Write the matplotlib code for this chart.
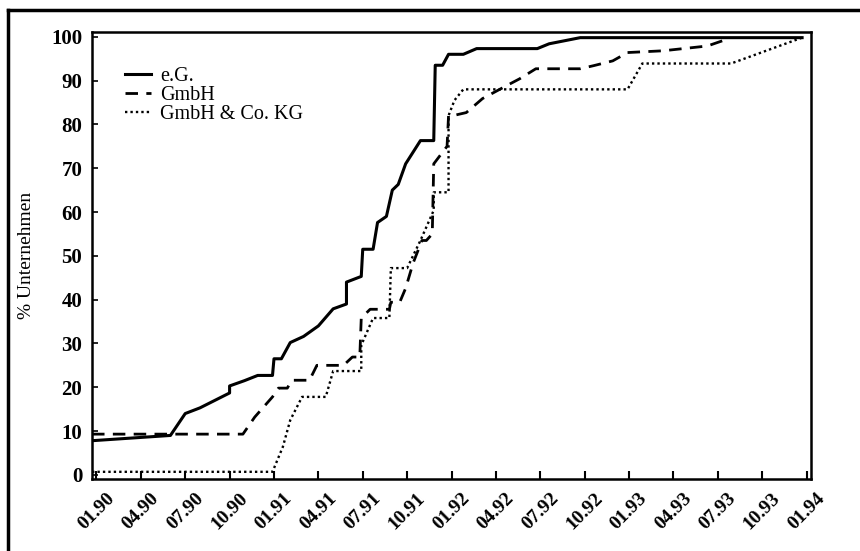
import matplotlib
matplotlib.use("Agg")
import matplotlib.pyplot as plt
from matplotlib.lines import Line2D

# --- Daten (Monate ab 01.90, Anteil in %) ---
eg_month = [-0.3, 5.0, 6.0, 7.0, 8.0, 9.0, 9.0, 10.0, 10.9, 11.9, 12.0, 12.5, 13.1,
            14.0, 15.0, 16.0, 16.9, 16.9, 17.9, 18.0, 18.7, 19.0, 19.6, 20.0, 20.4,
            20.9, 21.9, 22.8, 22.9, 23.4, 23.8, 24.8, 25.7, 29.8, 30.6, 32.7, 47.7]
eg_pct = [7.8, 9.0, 14.0, 15.3, 17.0, 18.7, 20.3, 21.5, 22.7, 22.7, 26.5, 26.5, 30.2,
          31.6, 34.0, 37.9, 39.0, 44.0, 45.3, 51.5, 51.5, 57.6, 59.0, 65.0, 66.3,
          71.0, 76.3, 76.3, 93.5, 93.5, 96.0, 96.0, 97.3, 97.3, 98.4, 99.8, 99.8]

gmbh_month = [-0.3, 9.9, 10.7, 11.9, 12.3, 12.9, 13.2, 14.4, 14.9, 16.7, 17.3, 17.8,
              17.9, 18.5, 19.8, 19.9, 20.5, 20.9, 21.4, 22.0, 22.3, 22.7, 22.8, 23.7,
              23.8, 24.1, 25.0, 26.1, 27.7, 28.6, 29.7, 32.7, 33.6, 34.9, 35.9, 38.3,
              41.3, 42.5]
gmbh_pct = [9.3, 9.3, 13.2, 17.8, 19.8, 19.8, 21.6, 21.6, 25.0, 25.0, 26.9, 26.9,
            35.8, 37.8, 37.8, 39.4, 39.4, 42.6, 48.3, 53.5, 53.5, 55.0, 71.0, 75.0,
            82.0, 82.0, 82.7, 85.9, 88.8, 90.4, 92.7, 92.7, 93.4, 94.5, 96.4, 96.8,
            97.9, 99.3]

kg_month = [-0.3, 11.9, 12.6, 13.1, 13.9, 15.5, 16.0, 17.9, 17.9, 18.7, 19.8, 19.9,
            21.0, 21.9, 22.8, 22.8, 23.8, 23.8, 24.2, 24.8, 35.9, 36.9, 42.9, 47.7]
kg_pct = [0.7, 0.7, 6.4, 12.5, 17.8, 17.8, 23.7, 23.7, 29.6, 35.8, 35.8, 47.2,
          47.2, 53.5, 60.4, 64.5, 64.5, 82.0, 85.5, 88.0, 88.0, 93.9, 93.9, 99.8]

tick_months = list(range(0, 49, 3))
tick_labels = ["01.90", "04.90", "07.90", "10.90", "01.91", "04.91", "07.91",
               "10.91", "01.92", "04.92", "07.92", "10.92", "01.93", "04.93",
               "07.93", "10.93", "01.94"]

plt.rcParams["font.family"] = ["Liberation Serif", "DejaVu Serif"]

fig = plt.figure(figsize=(8.6, 5.51), dpi=100)
ax = fig.add_axes([0.107, 0.131, 0.836, 0.811])

ax.plot(eg_month, eg_pct, color="black", lw=2.2, ls="-", label="e.G.")
ax.plot(gmbh_month, gmbh_pct, color="black", lw=2.0, ls=(0, (4.5, 3)), label="GmbH")
ax.plot(kg_month, kg_pct, color="black", lw=1.7, ls=(0, (1, 1.3)), label="GmbH & Co. KG")

ax.set_xlim(-0.3, 48.3)
ax.set_ylim(-0.9, 101.1)
ax.set_yticks(range(0, 101, 10))
ax.set_xticks(tick_months)
ax.set_xticklabels(tick_labels, rotation=45, ha="center", fontweight="bold", fontsize=14)
for t in ax.get_yticklabels():
    t.set_fontweight("bold")
    t.set_fontsize(15)

ax.tick_params(axis="x", direction="in", length=6, width=1.5, pad=8)
ax.tick_params(axis="y", direction="in", length=4, width=1.2, pad=7)
for s in ax.spines.values():
    s.set_linewidth(1.8)

ax.set_ylabel("% Unternehmen", fontsize=14, labelpad=12)

leg = ax.legend(loc="upper left", bbox_to_anchor=(0.035, 0.94), frameon=False,
                fontsize=14.5, handlelength=1.3, handletextpad=0.45,
                labelspacing=0.0, borderaxespad=0)

# --- äußerer Rahmen ---
fig.add_artist(Line2D([8 / 860, 8 / 860], [0, 1 - 10 / 551], transform=fig.transFigure,
                      color="black", lw=2.5))
fig.add_artist(Line2D([8 / 860, 1], [1 - 10 / 551, 1 - 10 / 551], transform=fig.transFigure,
                      color="black", lw=2.5))

fig.savefig("out.png", dpi=100)
